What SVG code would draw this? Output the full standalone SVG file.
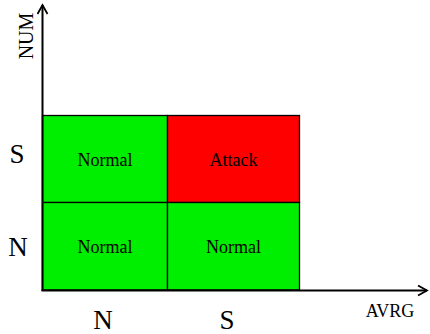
<svg xmlns="http://www.w3.org/2000/svg" width="430" height="334" viewBox="0 0 430 334">
<style>
.cell{stroke:#000;stroke-width:1.3}
.lbl{font-family:"Liberation Serif","Times New Roman",serif;fill:#000;text-anchor:middle}
.axis{stroke:#000;stroke-width:2;fill:none}
</style>
<defs>
<marker id="arr" viewBox="0 0 12 12" refX="10" refY="6" markerWidth="12" markerHeight="12" markerUnits="userSpaceOnUse" orient="auto">
<path d="M1,1 L10,6 L1,11" fill="none" stroke="#000" stroke-width="1.8"/>
</marker>
</defs>
<g id="cell-SN"><rect class="cell" x="42.5" y="115.5" width="125" height="87" fill="#00ee00"/><text class="lbl" x="105" y="166" font-size="18">Normal</text></g>
<g id="cell-SS"><rect class="cell" x="167.5" y="115.5" width="132" height="87" fill="#ff0000"/><text class="lbl" x="233.5" y="166" font-size="18">Attack</text></g>
<g id="cell-NN"><rect class="cell" x="42.5" y="202.5" width="125" height="87.5" fill="#00ee00"/><text class="lbl" x="105" y="253" font-size="18">Normal</text></g>
<g id="cell-NS"><rect class="cell" x="167.5" y="202.5" width="132" height="87.5" fill="#00ee00"/><text class="lbl" x="233.5" y="253" font-size="18">Normal</text></g>
<g id="connectors">
<line class="axis" x1="42.5" y1="291" x2="42.5" y2="5" marker-end="url(#arr)"/>
<line class="axis" x1="41.5" y1="290.5" x2="427" y2="290.5" marker-end="url(#arr)"/>
</g>
<g id="labels">
<text class="lbl" x="0" y="0" font-size="20" transform="translate(33,36) rotate(-90)">NUM</text>
<text class="lbl" x="390" y="317" font-size="18">AVRG</text>
<text class="lbl" x="17" y="163" font-size="27">S</text>
<text class="lbl" x="18" y="256" font-size="27">N</text>
<text class="lbl" x="103" y="329" font-size="27">N</text>
<text class="lbl" x="227" y="329" font-size="27">S</text>
</g>
</svg>
